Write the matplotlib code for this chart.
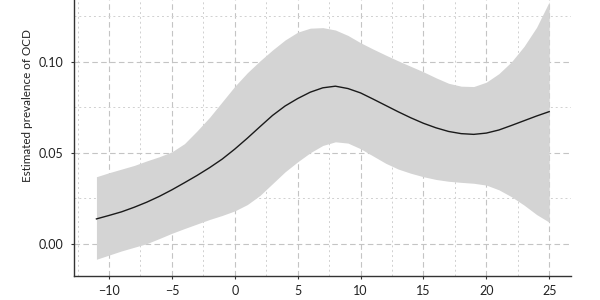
import numpy as np
import matplotlib.pyplot as plt
from matplotlib.ticker import MultipleLocator

plt.rcParams['font.family'] = ['Lato', 'DejaVu Sans']

# values
x = list(range(-11, 26))
est = [0.0136, 0.0155, 0.0175, 0.0200, 0.0228, 0.0260, 0.0296, 0.0335,
       0.0375, 0.0418, 0.0465, 0.0520, 0.0580, 0.0643, 0.0705, 0.0757,
       0.0798, 0.0833, 0.0857, 0.0866, 0.0853, 0.0829, 0.0795, 0.0760,
       0.0725, 0.0692, 0.0662, 0.0637, 0.0617, 0.0605, 0.0601, 0.0608,
       0.0625, 0.0650, 0.0676, 0.0702, 0.0726]
upper = [0.0368, 0.0390, 0.0410, 0.0430, 0.0455, 0.0478, 0.0505, 0.0550,
         0.0620, 0.0695, 0.0780, 0.0865, 0.0940, 0.1005, 0.1065, 0.1120,
         0.1163, 0.1185, 0.1188, 0.1175, 0.1145, 0.1105, 0.1070, 0.1037,
         0.1005, 0.0975, 0.0945, 0.0912, 0.0882, 0.0866, 0.0864, 0.0888,
         0.0935, 0.1000, 0.1085, 0.1190, 0.1330]
lower = [-0.0086, -0.0063, -0.0040, -0.0020, 0.0000, 0.0028, 0.0057, 0.0083,
         0.0108, 0.0133, 0.0155, 0.0180, 0.0215, 0.0265, 0.0330, 0.0395,
         0.0450, 0.0500, 0.0540, 0.0560, 0.0553, 0.0522, 0.0482, 0.0442,
         0.0410, 0.0387, 0.0368, 0.0353, 0.0343, 0.0337, 0.0332, 0.0322,
         0.0296, 0.0258, 0.0212, 0.0160, 0.0118]

fig = plt.figure(figsize=(6, 3), dpi=100)
ax = fig.add_axes([0.123, 0.08, 0.829, 0.92])

ax.fill_between(x, lower, upper, color='#d4d4d4', linewidth=0, zorder=2)
ax.plot(x, est, color='#1a1a1a', linewidth=1.0, zorder=3)

ax.set_xlim(-12.8, 26.75)
ax.set_ylim(-0.0178, 0.134)
ax.xaxis.set_major_locator(MultipleLocator(5))
ax.xaxis.set_minor_locator(MultipleLocator(2.5))
ax.yaxis.set_major_locator(MultipleLocator(0.05))
ax.yaxis.set_minor_locator(MultipleLocator(0.025))
ax.yaxis.set_major_formatter(plt.FuncFormatter(lambda v, p: f'{v:.2f}'))

ax.grid(which='major', color='#c4c4c4', linestyle=(0, (5, 3)), linewidth=0.8, zorder=1)
ax.grid(which='minor', color='#d0d0d0', linestyle=(0, (2, 3)), linewidth=0.7, zorder=1)
ax.set_axisbelow(True)

for s in ['top', 'right']:
    ax.spines[s].set_visible(False)
for s in ['left', 'bottom']:
    ax.spines[s].set_color('#333333')
    ax.spines[s].set_linewidth(1.0)

ax.tick_params(which='major', direction='out', length=2.5, width=0.8,
               color='#333333', labelsize=9, labelcolor='#222222')
ax.tick_params(axis='y', pad=5)
ax.tick_params(axis='x', pad=4)
ax.tick_params(which='minor', length=0)

ax.set_ylabel('Estimated prevalence of OCD', fontsize=8.4, color='#222222')
ax.yaxis.set_label_coords(-0.083, 0.616)

fig.savefig('out.png', dpi=100)
